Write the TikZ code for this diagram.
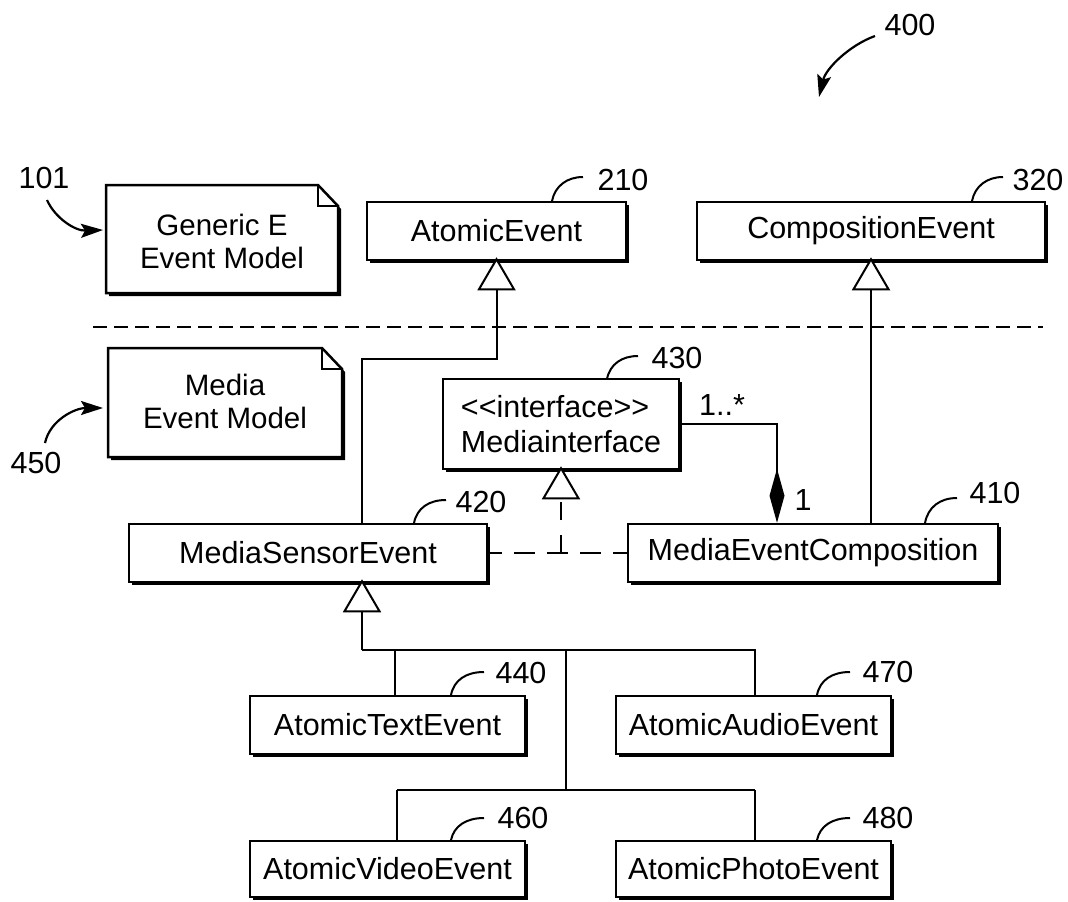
\documentclass[tikz,border=0pt]{standalone}
\usepackage{fontspec}
\setmainfont{Liberation Sans}
\usetikzlibrary{arrows.meta,shadows}
\begin{document}
\begin{tikzpicture}[x=1pt,y=-1pt,
  every node/.style={font=\fontsize{30.5}{35}\selectfont, inner sep=0pt},
  notetext/.style={font=\fontsize{29.5}{33}\selectfont, align=center},
  cls/.style={draw, line width=2.5pt, fill=white, minimum height=58pt,
    general shadow={fill=black, shadow xshift=3pt, shadow yshift=-3pt}},
  conn/.style={line width=2pt},
  gen/.style={-{Triangle[length=33pt,width=38pt,fill=white]}, shorten >=-4pt},
  real/.style={dash pattern=on 21pt off 12pt, dash phase=7pt},
  lead/.style={line width=2pt},
  callout/.style={line width=2.2pt, -{Stealth[length=22pt,width=14pt,inset=4pt]}},
  notebox/.style={draw, line width=2.5pt, fill=white, line join=miter},
  sepline/.style={line width=2.2pt, dash pattern=on 14pt off 7pt}]
\useasboundingbox (0,0) rectangle (1068,902);

% separator
\draw[sepline] (93,327) -- (1043,327);

% notes
\fill[black] (109,188) -- (321,188) -- (341,209) -- (341,296) -- (109,296) -- cycle;
\draw[notebox] (106,185) -- (318,185) -- (338,206) -- (338,293) -- (106,293) -- cycle;
\draw[line width=2pt] (318,185) -- (318,206) -- (338,206);
\node[notetext] (gnote) at (222,241) {Generic E\\Event Model};

\fill[black] (111,351) -- (325,351) -- (345,372) -- (345,460) -- (111,460) -- cycle;
\draw[notebox] (108,348) -- (322,348) -- (342,369) -- (342,457) -- (108,457) -- cycle;
\draw[line width=2pt] (322,348) -- (322,369) -- (342,369);
\node[notetext] (mnote) at (225,401) {Media\\Event Model};

% classes
\node[cls, minimum width=259pt] (ae) at (496.5,231) {AtomicEvent};
\node[cls, minimum width=348pt] (ce) at (871,231) {CompositionEvent};
\node[cls, minimum width=236pt, minimum height=90pt, align=left] (mi) at (561,424)
  {<{}<interface>{}>\\Mediainterface};
\node[cls, minimum width=358pt] (mse) at (308,553) {MediaSensorEvent};
\node[cls, minimum width=370pt] (mec) at (813,553) {MediaEventComposition};
\node[cls, minimum width=275pt] (ate) at (387.5,725) {AtomicTextEvent};
\node[cls, minimum width=275pt] (aae) at (753.5,725) {AtomicAudioEvent};
\node[cls, minimum width=275pt, minimum height=56pt] (ave) at (387.5,869) {AtomicVideoEvent};
\node[cls, minimum width=275pt, minimum height=56pt] (ape) at (753.5,869) {AtomicPhotoEvent};

% generalization to AtomicEvent
\coordinate (j1) at (362,359);
\coordinate (j2) at (496.5,359);
\draw[conn, gen] (mse.north -| j1) -- (j1) -- (j2) -- (ae.south);
% generalization to CompositionEvent
\draw[conn, gen] (mec.north -| ce.south) -- (ce.south);
% realization of Mediainterface
\draw[conn, real] (mse.east) -- (mec.west);
\coordinate (rj) at (mse.east -| mi.south);
\draw[conn, dash pattern=on 18pt off 15pt, gen] (rj) -- (mi.south);
% composition
\coordinate (cc) at (777,424);
\draw[conn, -{Diamond[length=54pt,width=15pt]}] (mi.east) -- (cc) -- (mec.north -| cc);
\node (m1) at (722,405) {1..*};
\node (m2) at (803,500) {1};

% generalization of the atomic media events
\coordinate (h1) at (362,650);
\coordinate (h2) at (755,650);
\coordinate (h3) at (395,650);
\coordinate (hc) at (566,650);
\coordinate (lc) at (566,790);
\coordinate (l1) at (397,790);
\coordinate (l2) at (755,790);
\draw[conn, gen] (h1) -- (mse.south -| h1);
\draw[conn] (h1) -- (h2) -- (aae.north -| h2);
\draw[conn] (h3) -- (ate.north -| h3);
\draw[conn] (hc) -- (lc);
\draw[conn] (l1) -- (l2);
\draw[conn] (l1) -- (ave.north -| l1);
\draw[conn] (l2) -- (ape.north -| l2);

% reference labels and leaders
\node (r210) at (623,180) {210};
\draw[lead] (552,201) .. controls (555,186) and (567,177) .. (583,177);
\node (r320) at (1038,180) {320};
\draw[lead] (972,201) .. controls (975,186) and (987,177) .. (1003,177);
\node (r430) at (677,358) {430};
\draw[lead] (607,379) .. controls (610,364) and (622,356) .. (638,356);
\node (r420) at (481,502) {420};
\draw[lead] (414,523) .. controls (417,508) and (429,500) .. (446,500);
\node (r410) at (995,493) {410};
\draw[lead] (925,523) .. controls (928,507) and (940,498) .. (957,498);
\node (r440) at (521,673) {440};
\draw[lead] (451,695) .. controls (454,680) and (466,672) .. (484,672);
\node (r470) at (888,672) {470};
\draw[lead] (817,695) .. controls (820,680) and (832,672) .. (850,672);
\node (r460) at (523,818) {460};
\draw[lead] (451,840) .. controls (454,826) and (466,818) .. (484,818);
\node (r480) at (888,818) {480};
\draw[lead] (817,840) .. controls (820,826) and (832,818) .. (850,818);

% callouts
\node (r101) at (44,178) {101};
\draw[callout] (47,200) .. controls (55,218) and (75,231) .. (103,230);
\node (r450) at (36,463) {450};
\draw[callout] (45,443) .. controls (50,420) and (75,408) .. (103,408);
\node (r400) at (910,25) {400};
\draw[callout] (875,36) .. controls (850,45) and (826,68) .. (819,97);
\end{tikzpicture}
\end{document}
